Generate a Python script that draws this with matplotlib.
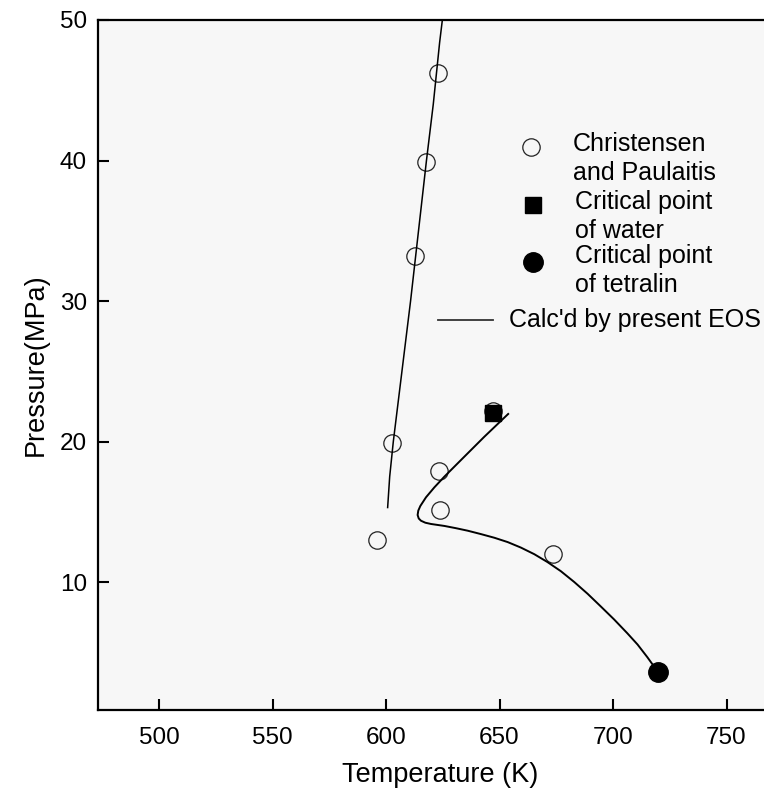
import matplotlib
matplotlib.use("Agg")
import matplotlib.pyplot as plt

plt.rcParams['font.family'] = ['Liberation Sans', 'DejaVu Sans']

# Experimental data, Christensen and Paulaitis
exp_T = [622.8, 617.6, 612.9, 602.6, 623.3, 623.8, 595.9, 673.4, 647.0]
exp_P = [46.2, 39.9, 33.2, 19.9, 17.9, 15.1, 13.0, 12.0, 22.2]

# Critical points
water_T, water_P = [647.1], [22.06]
tetralin_T, tetralin_P = [720.0], [3.6]

# EOS calculation, steep (high-pressure) branch
calc1_T = [624.8, 623.6, 620.8, 617.8, 614.3, 610.8, 607.0, 603.2, 601.6, 600.7]
calc1_P = [50.0, 48.4, 44.0, 40.0, 35.0, 30.0, 25.0, 20.0, 17.5, 15.3]

# EOS calculation, branch from water to tetralin
calc2_T = [653.8, 643.3, 633.0, 625.7, 621.3, 617.6, 615.1, 614.2, 613.9, 614.4,
           615.4, 617.3, 619.8, 625.7, 630.8, 636.0, 641.8, 647.7, 653.6, 659.4,
           665.3, 671.1, 677.0, 682.9, 688.8, 694.6, 700.5, 706.3, 710.8, 715.1,
           718.0, 720.0]
calc2_P = [21.96, 20.34, 18.68, 17.5, 16.74, 16.03, 15.41, 15.08, 14.77, 14.52,
           14.36, 14.22, 14.13, 13.99, 13.83, 13.65, 13.41, 13.15, 12.84, 12.45,
           11.98, 11.42, 10.77, 10.0, 9.16, 8.26, 7.33, 6.35, 5.55, 4.65,
           4.0, 3.6]

x_ticks = [500, 550, 600, 650, 700, 750]
y_ticks = [10, 20, 30, 40, 50]

FS = 17.5

fig = plt.figure(figsize=(7.64, 7.95), dpi=100)
ax = fig.add_axes([98 / 764, 85 / 795, 666 / 764, 690 / 795])
ax.set_facecolor('#f7f7f7')

ax.plot(calc1_T, calc1_P, color='black', lw=1.1, zorder=3)
ax.plot(calc2_T, calc2_P, color='black', lw=1.4, zorder=3)
ax.plot(exp_T, exp_P, 'o', ms=12.5, mfc='none', mec='#222222', mew=0.9, zorder=2)
ax.plot(water_T, water_P, 's', ms=12, color='black', zorder=4)
ax.plot(tetralin_T, tetralin_P, 'o', ms=14, color='black', zorder=4)

ax.set_xlim(473.1, 766.5)
ax.set_ylim(0.89, 50)
ax.set_xticks(x_ticks)
ax.set_yticks(y_ticks)
ax.tick_params(direction='in', length=8, width=1.5, labelsize=FS, pad=12)
ax.tick_params(axis='y', pad=8)
ax.spines['right'].set_visible(False)
for s in ['left', 'bottom', 'top']:
    ax.spines[s].set_linewidth(1.6)

ax.set_xlabel('Temperature (K)', fontsize=19.5, labelpad=10)
ax.xaxis.set_label_coords(0.5135, -0.075)
ax.set_ylabel('Pressure(MPa)', fontsize=19.5, labelpad=8)

# hand-placed key
LFS = 18
tr = ax.transAxes
ax.plot([0.650], [0.816], 'o', ms=12.5, mfc='none', mec='#222222', mew=0.9, transform=tr)
ax.plot([0.653], [0.732], 's', ms=12, color='black', transform=tr)
ax.plot([0.653], [0.649], 'o', ms=14, color='black', transform=tr)
ax.plot([0.511, 0.593], [0.565, 0.565], color='#333333', lw=1.3, transform=tr)
ax.text(0.713, 0.838, 'Christensen\nand Paulaitis', transform=tr, fontsize=LFS,
        va='top', ha='left', linespacing=1.3)
ax.text(0.716, 0.754, 'Critical point\nof water', transform=tr, fontsize=LFS,
        va='top', ha='left', linespacing=1.3)
ax.text(0.716, 0.676, 'Critical point\nof tetralin', transform=tr, fontsize=LFS,
        va='top', ha='left', linespacing=1.3)
ax.text(0.617, 0.565, "Calc'd by present EOS", transform=tr, fontsize=LFS,
        va='center', ha='left')

fig.savefig('out.png', dpi=100)
